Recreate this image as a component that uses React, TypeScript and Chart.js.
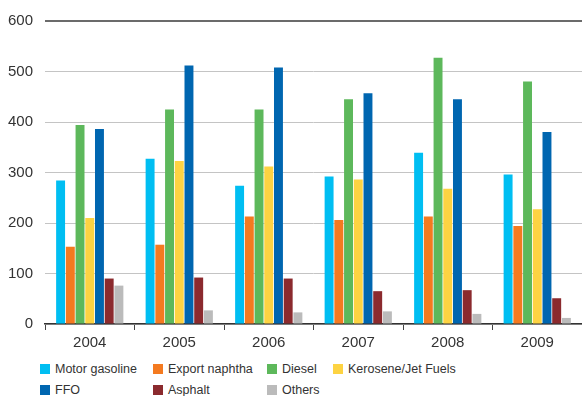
import React, { useEffect, useRef } from "react";
import { Chart, registerables } from "chart.js";

Chart.register(...registerables);

const categories = ["2004", "2005", "2006", "2007", "2008", "2009"];
const motorGasoline = [284, 327, 274, 292, 339, 296];
const exportNaphtha = [153, 157, 213, 206, 213, 194];
const diesel = [394, 425, 425, 445, 527, 480];
const kerosene = [210, 323, 312, 286, 268, 227];
const ffo = [386, 512, 508, 457, 445, 380];
const asphalt = [90, 92, 90, 65, 67, 51];
const others = [76, 27, 23, 25, 20, 12];

const seriesNames = ["Motor gasoline", "Export naphtha", "Diesel", "Kerosene/Jet Fuels", "FFO", "Asphalt", "Others"];
const seriesColors = ["#00BEF2", "#F47A20", "#5DB85B", "#FDD342", "#0066B0", "#8B2A2E", "#BBBBBB"];
const seriesData = [motorGasoline, exportNaphtha, diesel, kerosene, ffo, asphalt, others];

const FONT = "'Liberation Sans', Arial, sans-serif";

export default function App() {
  const ref = useRef<HTMLCanvasElement | null>(null);
  useEffect(() => {
    document.body.style.margin = "0";
    if (!ref.current) return;
    const chart = new Chart(ref.current, {
      type: "bar",
      data: {
        labels: categories,
        datasets: seriesNames.map((n, i) => ({
          label: n,
          data: seriesData[i],
          backgroundColor: seriesColors[i],
          borderWidth: 0,
          categoryPercentage: 0.76,
          barPercentage: 0.92,
        })),
      },
      options: {
        animation: false,
        responsive: false,
        maintainAspectRatio: false,
        layout: { padding: { top: 19, right: 0, left: 0, bottom: 0 } },
        plugins: { legend: { display: false }, tooltip: { enabled: false } },
        scales: {
          x: {
            offset: true,
            grid: {
              offset: true,
              drawOnChartArea: false,
              drawTicks: true,
              tickLength: 6,
              color: "#444",
              lineWidth: 1,
            },
            border: { display: true, color: "#333", width: 1.5 },
            ticks: { color: "#333", font: { family: FONT, size: 15 }, padding: 4 },
          },
          y: {
            min: 0,
            max: 600,
            ticks: { stepSize: 100, color: "#333", font: { family: FONT, size: 15 }, padding: 12 },
            grid: {
              drawTicks: false,
              color: (c: any) => (c.tick && c.tick.value === 600 ? "#6b6b6b" : "#c4c4c4"),
              lineWidth: (c: any) => (c.tick && c.tick.value === 600 ? 2 : 1),
            },
            border: { display: false },
            afterFit: (s: any) => {
              s.width = 45;
            },
          },
        },
      },
    });
    return () => chart.destroy();
  }, []);

  const legendPos = [
    [40, 369], [153, 369], [267, 369], [333, 369],
    [40, 390], [153, 390], [267, 390],
  ];

  return (
    <div style={{ position: "relative", width: 582, height: 396, background: "#fff", fontFamily: FONT }}>
      <canvas ref={ref} width={582} height={356} style={{ position: "absolute", left: 0, top: 0 }} />
      {seriesNames.map((n, i) => (
        <div
          key={n}
          style={{
            position: "absolute",
            left: legendPos[i][0],
            top: legendPos[i][1] - 8,
            height: 16,
            display: "flex",
            alignItems: "center",
            fontSize: 12.5,
            color: "#333",
            whiteSpace: "nowrap",
          }}
        >
          <span style={{ display: "inline-block", width: 10, height: 10, background: seriesColors[i], marginRight: 5 }} />
          {n}
        </div>
      ))}
    </div>
  );
}
